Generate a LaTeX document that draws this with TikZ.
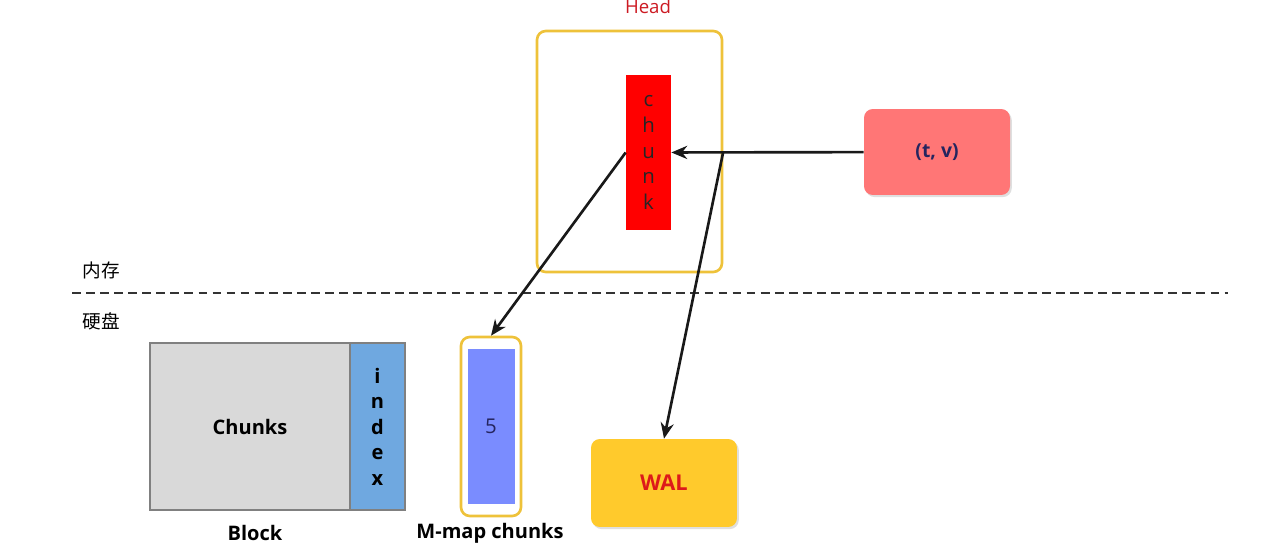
\documentclass[tikz,border=0pt]{standalone}
\usepackage{fontspec}
\setmainfont{Open Sans}
\newfontfamily\cjk{Noto Sans CJK SC}
\usepackage{xcolor}
\usetikzlibrary{arrows.meta, positioning, shadows}

\definecolor{headgold}{HTML}{EEC23A}
\definecolor{chunkred}{HTML}{FF0000}
\definecolor{tvpink}{HTML}{FF7676}
\definecolor{navytext}{HTML}{25255F}
\definecolor{blockgray}{HTML}{D9D9D9}
\definecolor{blockedge}{HTML}{808080}
\definecolor{indexblue}{HTML}{6FA8E0}
\definecolor{mmapblue}{HTML}{7A8CFF}
\definecolor{walyellow}{HTML}{FFCA2C}
\definecolor{walred}{HTML}{DD1A1A}
\definecolor{headred}{HTML}{CC1A22}

\begin{document}
\begin{tikzpicture}[
    x=0.02cm, y=-0.02cm,
    frame/.style={rectangle, draw=headgold, line width=1.5pt, rounded corners=5pt, inner sep=0pt},
    bar/.style={rectangle, inner sep=0pt, align=center, font=\fontsize{11.6}{14.7}\selectfont},
    card/.style={rectangle, rounded corners=5pt, minimum width=2.92cm,
        drop shadow={shadow xshift=1pt, shadow yshift=-1.2pt, opacity=0.25}},
    caption/.style={font=\bfseries\fontsize{11.4}{13}\selectfont},
    zone/.style={font=\cjk\fontsize{10.6}{12}\selectfont},
    arr/.style={-{Stealth[length=9pt, width=7.5pt]}, line width=1.5pt, color=black!90}
]
    \useasboundingbox (0,0) rectangle (1280,544);

    % Nodes
    \node[frame, minimum width=3.7cm, minimum height=4.82cm] (head) at (629.5,151.5) {};
    \node[font=\fontsize{10.6}{12}\selectfont, text=headred] (headlbl) at (648,7) {Head};
    \node[bar, fill=chunkred, text=black!85, minimum width=0.9cm, minimum height=3.1cm] (chunk) at (648.5,152.5) {c\\h\\u\\n\\k};

    \node[card, fill=tvpink, text=navytext, minimum height=1.72cm, font=\bfseries\fontsize{11}{13}\selectfont] (tv) at (937,152) {(t, v)};

    \node[zone] (mem) at (101,270) {内存};
    \node[zone] (disk) at (101,321) {硬盘};
    \coordinate (sepl) at (72,293);
    \coordinate (sepr) at (1228,293);

    \node[rectangle, draw=blockedge, line width=1.4pt, fill=blockgray, minimum width=4cm, minimum height=3.34cm,
        font=\bfseries\fontsize{11.4}{13}\selectfont] (chunks) at (250,426.5) {Chunks};
    \node[bar, draw=blockedge, line width=1.4pt, fill=indexblue, minimum width=1.1cm, minimum height=3.34cm,
        font=\bfseries\fontsize{11.4}{14.5}\selectfont, right=-1.4pt of chunks] (index) {i\\n\\d\\e\\x};
    \node[caption] (blocklbl) at (255,533) {Block};

    \node[frame, minimum width=1.2cm, minimum height=3.58cm] (mmap) at (491,426.5) {};
    \node[bar, fill=mmapblue, text=navytext, minimum width=0.94cm, minimum height=3.1cm] (five) at (mmap.center) {5};
    \node[caption] (mmaplbl) at (490,533) {M-map chunks};

    \node[card, fill=walyellow, text=walred, minimum height=1.76cm, font=\bfseries\fontsize{12.4}{14}\selectfont] (wal) at (664,483) {WAL};

    % Arrows
    \draw[line width=0.7pt, black!80, dash pattern=on 5pt off 3pt] (sepl) -- (sepr);
    \draw[arr] (tv) -- (chunk);
    \draw[arr] (chunk.west) -- (mmap.north);
    \draw[arr] (head.east) -- (wal.north);
\end{tikzpicture}
\end{document}
